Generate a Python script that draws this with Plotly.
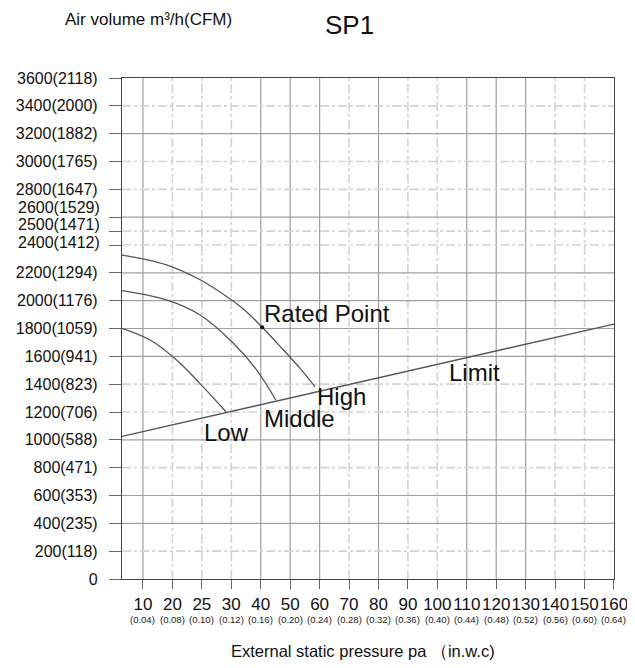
import plotly.graph_objects as go

# ---------------- data ----------------
# x axis: evenly spaced pressure ticks (Pa) with inch-water-column equivalents
x_tick_pa = ["10", "20", "25", "30", "40", "50", "60", "70", "80", "90",
             "100", "110", "120", "130", "140", "150", "160"]
x_tick_inwc = ["(0.04)", "(0.08)", "(0.10)", "(0.12)", "(0.16)", "(0.20)", "(0.24)",
               "(0.28)", "(0.32)", "(0.36)", "(0.40)", "(0.44)", "(0.48)", "(0.52)",
               "(0.56)", "(0.60)", "(0.64)"]
x_tick_pos = list(range(len(x_tick_pa)))  # slot index on the pressure scale

# y axis: air volume m3/h with CFM equivalents
y_tick_vals = [0, 200, 400, 600, 800, 1000, 1200, 1400, 1600, 1800, 2000, 2200,
               2400, 2500, 2600, 2800, 3000, 3200, 3400, 3600]
y_tick_text = ["0", "200(118)", "400(235)", "600(353)", "800(471)", "1000(588)",
               "1200(706)", "1400(823)", "1600(941)", "1800(1059)", "2000(1176)",
               "2200(1294)", "2400(1412)", "2500(1471)", "2600(1529)", "2800(1647)",
               "3000(1765)", "3200(1882)", "3400(2000)", "3600(2118)"]
# crowded labels drawn slightly spread apart
crowded_vals = [2400, 2500, 2600]

# fan curves (x in pressure-scale slot units, y in m3/h)
high_x = [-0.71, 0.80, 1.94, 2.84, 3.41, 4.05, 4.71, 5.33, 5.84]
high_y = [2328, 2258, 2150, 2030, 1940, 1809, 1660, 1515, 1382]
middle_x = [-0.71, 0.80, 1.94, 3.07, 3.86, 4.51]
middle_y = [2072, 2005, 1897, 1694, 1502, 1286]
low_x = [-0.71, 0.24, 1.14, 1.93, 2.82]
low_y = [1801, 1717, 1574, 1406, 1202]
limit_x = [-0.71, 16]
limit_y = [1025, 1832]
rated_x = [4.05]
rated_y = [1809]

# grid line styles (True = solid, False = dash-dot light)
v_grid_solid = [True, False, False, False, True, True, True, False, True, False,
                False, True, True, True, False, False]
h_grid_vals = [200, 400, 600, 800, 1000, 1200, 1400, 1600, 1800, 2000, 2200,
               2400, 2500, 2600, 2800, 3000, 3200, 3400]
h_grid_solid = [False, True, True, False, True, False, False, True, True, True, True,
                False, False, True, False, False, True, False]

REG = "Liberation Sans, Arial, sans-serif"
TICKFONT = dict(family=REG, size=16, color="#111111")

fig = go.Figure()
line_style = dict(color="#555555", width=1.3, shape="spline", smoothing=1.0)
for xs, ys in [(high_x, high_y), (middle_x, middle_y), (low_x, low_y)]:
    fig.add_trace(go.Scatter(x=xs, y=ys, mode="lines", line=line_style,
                             hoverinfo="skip", showlegend=False))
fig.add_trace(go.Scatter(x=limit_x, y=limit_y, mode="lines",
                         line=dict(color="#555555", width=1.3),
                         hoverinfo="skip", showlegend=False))
fig.add_trace(go.Scatter(x=rated_x, y=rated_y, mode="markers",
                         marker=dict(color="black", size=4),
                         hoverinfo="skip", showlegend=False))

shapes = []
for xv, solid in zip(x_tick_pos[:-1], v_grid_solid):
    shapes.append(dict(type="line", xref="x", yref="paper", x0=xv, x1=xv, y0=0, y1=1,
                       layer="below",
                       line=dict(color="#a0a0a0" if solid else "#d4d4d4",
                                 width=1.2 if solid else 1.6,
                                 dash="solid" if solid else "dashdot")))
for yv, solid in zip(h_grid_vals, h_grid_solid):
    shapes.append(dict(type="line", xref="paper", yref="y", x0=0, x1=1, y0=yv, y1=yv,
                       layer="below",
                       line=dict(color="#a0a0a0" if solid else "#d4d4d4",
                                 width=1.2 if solid else 1.6,
                                 dash="solid" if solid else "dashdot")))

annotations = []
for xv, t in zip(x_tick_pos, x_tick_inwc):
    annotations.append(dict(x=xv, y=0, xref="x", yref="paper", text=t, showarrow=False,
                            yshift=-40, yanchor="middle", xanchor="center",
                            font=dict(family=REG, size=9.5, color="#222222")))

# y tick labels: the crowded ones are placed as annotations nudged apart
tick_text_axis = []
crowd_shift = {2400: 3, 2500: 7, 2600: 10}
for v, t in zip(y_tick_vals, y_tick_text):
    if v in crowded_vals:
        tick_text_axis.append("")
        annotations.append(dict(x=0, y=v, xref="paper", yref="y", text=t,
                                showarrow=False, xanchor="right", yanchor="middle",
                                xshift=-20, yshift=crowd_shift[v], font=TICKFONT))
    else:
        tick_text_axis.append(t)

label_font = dict(family=REG, size=24, color="#111111")
for txt, xv, yv in [("Rated Point", 4.04, 1911), ("High", 5.84, 1310),
                    ("Middle", 4.04, 1150), ("Low", 2.02, 1056), ("Limit", 10.33, 1487)]:
    annotations.append(dict(x=xv, y=yv, xref="x", yref="y", text=txt, showarrow=False,
                            xanchor="left", yanchor="middle", font=label_font))
annotations.append(dict(x=-0.12, y=1.117, xref="paper", yref="paper",
                        text="Air volume m³/h(CFM)", showarrow=False,
                        xanchor="left", yanchor="middle",
                        font=dict(family=REG, size=17, color="#111111")))
annotations.append(dict(x=0.463, y=1.106, xref="paper", yref="paper", text="SP1",
                        showarrow=False, xanchor="center", yanchor="middle",
                        font=dict(family=REG, size=26, color="#111111")))
annotations.append(dict(x=0.49, y=-0.1437, xref="paper", yref="paper",
                        text="External static pressure pa （in.w.c)", showarrow=False,
                        xanchor="center", yanchor="middle",
                        font=dict(family=REG, size=16.5, color="#111111")))

# page body has an 8px margin, so the figure is sized/offset to compensate
fig.update_layout(
    width=627, height=660,
    margin=dict(l=114, r=21, t=70, b=89),
    paper_bgcolor="white", plot_bgcolor="white",
    shapes=shapes, annotations=annotations,
    xaxis=dict(range=[-0.713, 16.001], tickvals=x_tick_pos, ticktext=x_tick_pa,
               showgrid=False, zeroline=False, ticks="outside", ticklen=9,
               tickcolor="#666666", showline=True, linecolor="#444444", linewidth=1.3,
               mirror=True, tickangle=0, automargin=False,
               tickfont=dict(family=REG, size=17, color="#111111")),
    yaxis=dict(range=[0, 3600], tickvals=y_tick_vals, ticktext=tick_text_axis,
               showgrid=False, zeroline=False, ticks="outside", ticklen=12,
               tickcolor="#666666", showline=True, linecolor="#444444", linewidth=1.3,
               mirror=True, ticklabelstandoff=8, automargin=False,
               tickfont=TICKFONT),
)

fig.write_html("out.html")
